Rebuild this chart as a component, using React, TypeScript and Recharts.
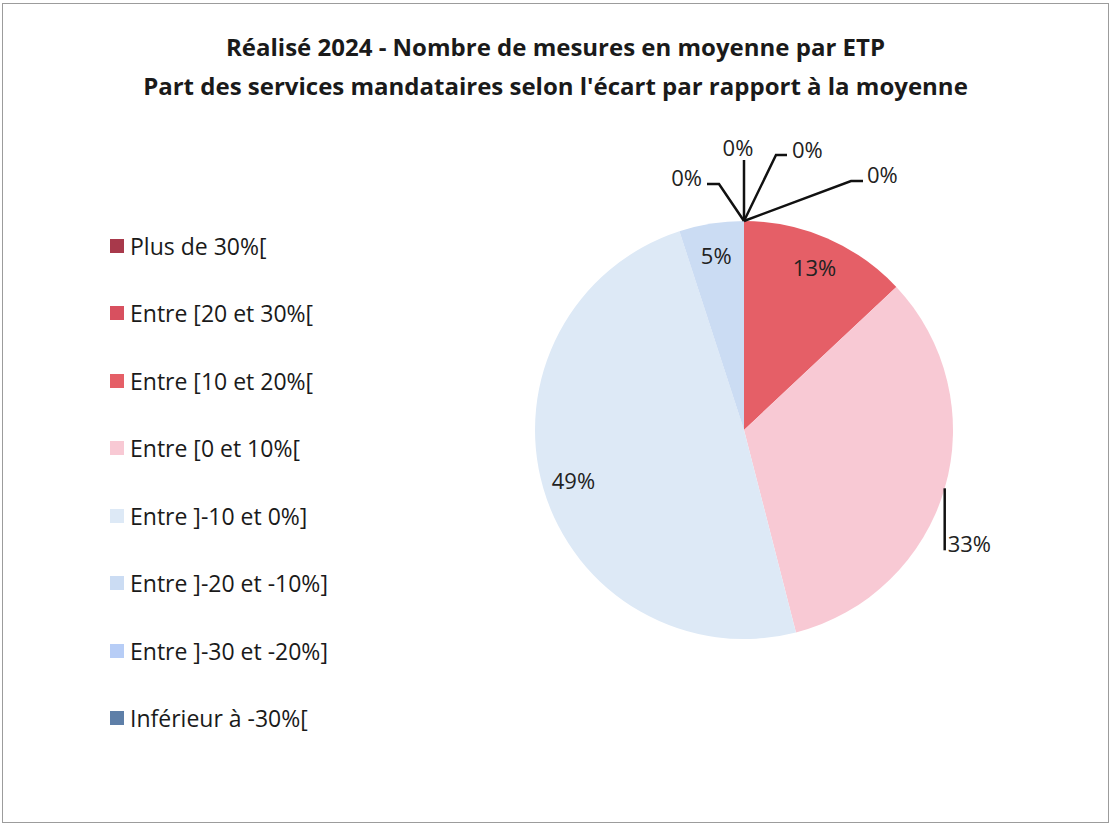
import { Cell, Legend, Pie, PieChart } from "recharts";

const categories = [
  "Plus de 30%[",
  "Entre [20 et 30%[",
  "Entre [10 et 20%[",
  "Entre [0 et 10%[",
  "Entre ]-10 et 0%]",
  "Entre ]-20 et -10%]",
  "Entre ]-30 et -20%]",
  "Inférieur à -30%[",
];
const shares = [0, 0, 13, 33, 49, 5, 0, 0];
const colors = [
  "#A8394B",
  "#D8505F",
  "#E55F67",
  "#F8C9D4",
  "#DDE9F6",
  "#CBDCF3",
  "#B7CDF6",
  "#5E7FA8",
];

const data = categories.map((name, i) => ({ name, value: shares[i] }));

const FONT = "'Open Sans', sans-serif";
const RADIAN = Math.PI / 180;

// label placement, Excel-style: inside or with a leader line
type LabelSpec =
  | { kind: "in" }
  | {
      kind: "out";
      elbow: [number, number];
      tail: number;
      text: [number, number];
      anchor: "start" | "middle" | "end";
    };

const labelLayout: LabelSpec[] = [
  { kind: "out", elbow: [32, -66], tail: 11, text: [48, -72], anchor: "start" },
  { kind: "out", elbow: [107, -40], tail: 12, text: [123, -47], anchor: "start" },
  { kind: "in" },
  { kind: "out", elbow: [0, 62], tail: 0, text: [3, 55], anchor: "start" },
  { kind: "in" },
  { kind: "in" },
  { kind: "out", elbow: [0, -61], tail: 0, text: [-6, -74], anchor: "middle" },
  { kind: "out", elbow: [-25, -37], tail: -12, text: [-42, -44], anchor: "end" },
];

function renderLabel(props: any) {
  const { cx, cy, midAngle, outerRadius, index, value } = props;
  const spec = labelLayout[index];
  const text = `${Math.round(value)}%`;
  const cos = Math.cos(-midAngle * RADIAN);
  const sin = Math.sin(-midAngle * RADIAN);
  if (spec.kind === "in") {
    const r = outerRadius * 0.85;
    return (
      <text
        x={cx + r * cos}
        y={cy + r * sin}
        textAnchor="middle"
        dominantBaseline="central"
        fontFamily={FONT}
        fontSize={22}
        fill="#222"
      >
        {text}
      </text>
    );
  }
  const sx = cx + outerRadius * cos;
  const sy = cy + outerRadius * sin;
  const ex = sx + spec.elbow[0];
  const ey = sy + spec.elbow[1];
  return (
    <g>
      <path
        d={`M${sx},${sy}L${ex},${ey}L${ex + spec.tail},${ey}`}
        stroke="#111"
        strokeWidth={2.5}
        fill="none"
      />
      <text
        x={sx + spec.text[0]}
        y={sy + spec.text[1]}
        textAnchor={spec.anchor}
        dominantBaseline="central"
        fontFamily={FONT}
        fontSize={22}
        fill="#222"
      >
        {text}
      </text>
    </g>
  );
}

function LegendList({ payload }: any) {
  const items = [...(payload ?? [])].sort(
    (a: any, b: any) => categories.indexOf(a.value) - categories.indexOf(b.value)
  );
  return (
    <div>
      {items.map((entry: any) => (
        <div
          key={entry.value}
          style={{
            display: "flex",
            alignItems: "center",
            height: 67.5,
            fontFamily: FONT,
            fontSize: 23,
            color: "#1a1a1a",
            whiteSpace: "nowrap",
          }}
        >
          <span
            style={{
              width: 14,
              height: 14,
              background: entry.color,
              marginRight: 6,
              display: "inline-block",
            }}
          />
          {entry.value}
        </div>
      ))}
    </div>
  );
}

export default function App() {
  return (
    <div
      style={{
        position: "absolute",
        left: 0,
        top: 0,
        width: 1111,
        height: 825,
        background: "#fff",
      }}
    >
      <div
        style={{
          position: "absolute",
          left: 2,
          top: 3,
          width: 1105,
          height: 818,
          border: "1.5px solid #9c9c9c",
        }}
      />
      <div
        style={{
          position: "absolute",
          top: 27,
          width: 1111,
          textAlign: "center",
          fontFamily: FONT,
          fontWeight: 700,
          fontSize: 24,
          lineHeight: "39px",
          color: "#1a1a1a",
        }}
      >
        Réalisé 2024 - Nombre de mesures en moyenne par ETP
        <br />
        Part des services mandataires selon l'écart par rapport à la moyenne
      </div>
      <PieChart width={1111} height={825} style={{ position: "absolute", left: 0, top: 0 }}>
        <Legend
          layout="vertical"
          verticalAlign="middle"
          align="center"
          wrapperStyle={{ left: 110, top: 212, width: 330 }}
          content={<LegendList />}
        />
        <Pie
          data={data}
          dataKey="value"
          nameKey="name"
          cx={739}
          cy={425}
          outerRadius={209}
          startAngle={90}
          endAngle={-270}
          stroke="none"
          label={renderLabel}
          labelLine={false}
          isAnimationActive={false}
        >
          {data.map((entry, i) => (
            <Cell key={entry.name} fill={colors[i]} />
          ))}
        </Pie>
      </PieChart>
    </div>
  );
}
